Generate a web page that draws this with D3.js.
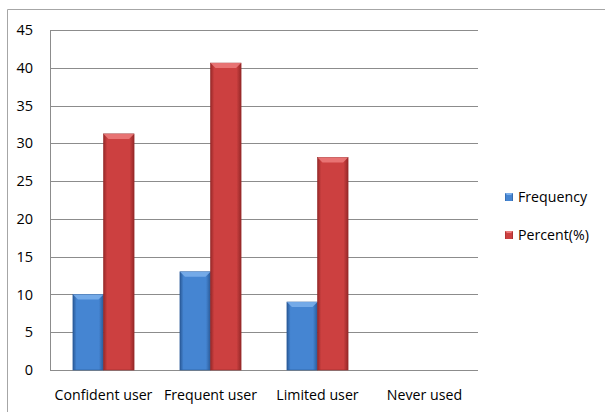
<!DOCTYPE html>
<html>
<head>
<meta charset="utf-8">
<script src="https://cdn.jsdelivr.net/npm/d3@7"></script>
<style>
  body { margin: 0; background: #fff; }
  svg { display: block; font-family: "Open Sans", "Noto Sans", sans-serif; }
</style>
</head>
<body>
<svg id="chart" width="605" height="412"></svg>
<script>
const categories = ["Confident user", "Frequent user", "Limited user", "Never used"];
const seriesNames = ["Frequency", "Percent(%)"];
const frequency = [10, 13, 9, 0];
const percent = [31.25, 40.625, 28.125, 0];
const yTicks = [0, 5, 10, 15, 20, 25, 30, 35, 40, 45];

const colors = {
  "Frequency": { dark: "#2a5a98", mid: "#4585d2", light: "#7db0ec" },
  "Percent(%)": { dark: "#962828", mid: "#cc4040", light: "#ec7c7c" }
};

const svg = d3.select("#chart");
const plotLeft = 50, plotRight = 478, plotTop = 30, plotBottom = 370;

// chart frame (top + left edges visible)
svg.append("line").attr("x1", 7.5).attr("x2", 605).attr("y1", 9.5).attr("y2", 9.5)
  .attr("stroke", "#a6a6a6");
svg.append("line").attr("x1", 7.5).attr("x2", 7.5).attr("y1", 9.5).attr("y2", 412)
  .attr("stroke", "#a6a6a6");

const x = d3.scaleBand().domain(categories).range([plotLeft, plotRight]).paddingInner(0).paddingOuter(0);
const xs = d3.scaleBand().domain(seriesNames).range([0, x.bandwidth()]).paddingInner(0).paddingOuter(0.75);
const y = d3.scaleLinear().domain([0, 45]).range([plotBottom, plotTop]);

const defs = svg.append("defs");
seriesNames.forEach((s, i) => {
  const g = defs.append("linearGradient").attr("id", "grad" + i).attr("x1", "0").attr("x2", "1").attr("y1", "0").attr("y2", "0");
  g.append("stop").attr("offset", "0").attr("stop-color", colors[s].dark);
  g.append("stop").attr("offset", "0.12").attr("stop-color", colors[s].mid);
  g.append("stop").attr("offset", "0.85").attr("stop-color", colors[s].mid);
  g.append("stop").attr("offset", "1").attr("stop-color", colors[s].dark);
});

// gridlines
svg.append("g")
  .selectAll("line")
  .data(yTicks)
  .join("line")
  .attr("x1", plotLeft).attr("x2", plotRight)
  .attr("y1", d => Math.round(y(d)) + 0.5).attr("y2", d => Math.round(y(d)) + 0.5)
  .attr("stroke", "#8c8c8c");

svg.append("line").attr("x1", plotLeft + 0.5).attr("x2", plotLeft + 0.5).attr("y1", plotTop).attr("y2", plotBottom + 0.5)
  .attr("stroke", "#8c8c8c");

// y labels
svg.append("g")
  .selectAll("text")
  .data(yTicks)
  .join("text")
  .attr("x", 33).attr("y", d => y(d))
  .attr("dy", "0.35em")
  .attr("text-anchor", "end")
  .style("font-size", "14.5px")
  .attr("fill", "#000")
  .text(d => d);

// bars
const series = [frequency, percent];
const rows = categories.map((c, i) => seriesNames.map((s, j) => ({ cat: c, name: s, idx: j, value: series[j][i] })));

const groups = svg.append("g")
  .selectAll("g")
  .data(rows)
  .join("g")
  .attr("transform", d => `translate(${x(d[0].cat)},0)`);

const bars = groups.selectAll("g")
  .data(d => d.filter(v => v.value > 0))
  .join("g");

bars.append("rect")
  .attr("x", d => xs(d.name))
  .attr("y", d => y(d.value))
  .attr("width", xs.bandwidth())
  .attr("height", d => y(0) - y(d.value))
  .attr("fill", d => `url(#grad${d.idx})`)
  .attr("stroke", d => colors[d.name].dark)
  .attr("stroke-width", 0.6);

// top bevel
bars.append("path")
  .attr("d", d => {
    const x0 = xs(d.name), w = xs.bandwidth(), t = y(d.value), b = 5;
    return `M${x0},${t}L${x0 + w},${t}L${x0 + w - b},${t + b}L${x0 + b},${t + b}Z`;
  })
  .attr("fill", d => colors[d.name].light)
  .attr("opacity", 0.85);

// category labels
svg.append("g")
  .selectAll("text")
  .data(categories)
  .join("text")
  .attr("x", d => x(d) + x.bandwidth() / 2)
  .attr("y", 395)
  .attr("dy", "0.35em")
  .attr("text-anchor", "middle")
  .style("font-size", "14.2px")
  .attr("fill", "#000")
  .text(d => d);

// legend
const legend = svg.append("g")
  .selectAll("g")
  .data(seriesNames)
  .join("g")
  .attr("transform", (d, i) => `translate(505,${197 + i * 38})`);

legend.append("rect")
  .attr("x", 0).attr("y", -4).attr("width", 8).attr("height", 8)
  .attr("fill", (d, i) => `url(#grad${i})`);
legend.append("path")
  .attr("d", "M0,-4L8,-4L6,-2L2,-2Z")
  .attr("fill", d => colors[d].light);
legend.append("text")
  .attr("x", 13).attr("y", 0).attr("dy", "0.35em")
  .style("font-size", "14.2px")
  .text(d => d);
</script>
</body>
</html>
